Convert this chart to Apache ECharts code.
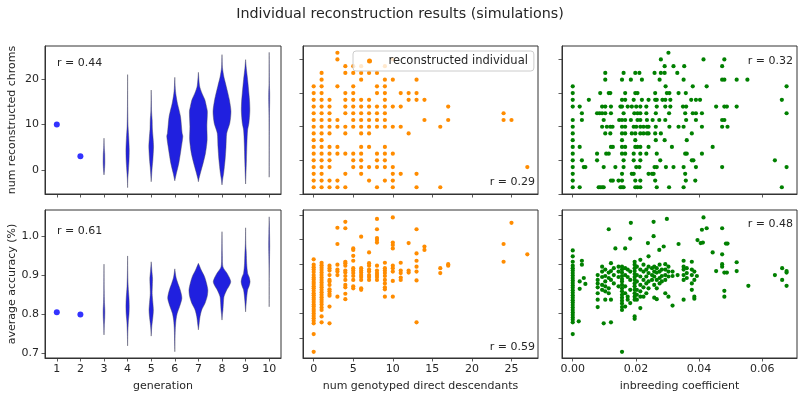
<!DOCTYPE html>
<html>
<head>
<meta charset="utf-8">
<title>Individual reconstruction results (simulations)</title>
<script src="https://cdn.jsdelivr.net/npm/echarts@6.0.0/dist/echarts.min.js"></script>
<style>
  html, body { margin: 0; padding: 0; background: #fff; }
  #main { width: 800px; height: 397px; }
</style>
</head>
<body>
<div id="main"></div>
<script>
// ---- data ----
var generations = [1, 2, 3, 4, 5, 6, 7, 8, 9, 10];
var singleGens = [1, 2];
var singleChroms = [10, 3];
var singleAccuracy = [0.805, 0.799];

// violin outlines: [value, half width in generation units]
var violinGens = [3, 4, 5, 6, 7, 8, 9, 10];
var violinChroms = [
  [[-1.1,0],[0,0.02],[1.5,0.035],[3.5,0.03],[5,0.012],[7,0]],
  [[-3.9,0],[-2,0.01],[0,0.035],[2,0.06],[4.4,0.07],[7,0.05],[9.6,0.02],[14,0.006],[21,0]],
  [[-2.6,0],[-1,0.02],[0.5,0.04],[2.2,0.07],[5.1,0.1],[7,0.08],[9,0.05],[11,0.04],[13,0.015],[17.6,0]],
  [[-2.4,0],[-0.7,0.07],[1.5,0.17],[4.4,0.26],[7.4,0.34],[8.1,0.31],[11.8,0.24],[14.7,0.11],[16.5,0.05],[18,0.02],[20.4,0]],
  [[-2.6,0],[-1.8,0.03],[-0.4,0.1],[1.5,0.2],[3.7,0.3],[6.6,0.37],[9.6,0.36],[12.9,0.38],[14,0.34],[15.5,0.27],[16.9,0.15],[18.5,0.05],[21.5,0]],
  [[-3.3,0],[-2,0.03],[-0.7,0.07],[2.2,0.13],[5.1,0.17],[8.1,0.2],[10.3,0.33],[12.9,0.38],[15.5,0.31],[18.4,0.18],[20.5,0.08],[22.5,0.02],[25.4,0]],
  [[-3.1,0],[-1,0.015],[2.2,0.035],[5.9,0.056],[8.8,0.085],[10.3,0.14],[12.9,0.18],[15,0.17],[16.9,0.14],[19.9,0.085],[22.4,0.03],[24.3,0]],
  [[-1.6,0],[5,0.004],[12,0.01],[15,0.02],[17,0.02],[19,0.008],[25.9,0]]
];
var violinAccuracy = [
  [[0.747,0],[0.77,0.012],[0.79,0.03],[0.81,0.035],[0.83,0.02],[0.86,0.008],[0.928,0]],
  [[0.719,0],[0.75,0.01],[0.78,0.03],[0.80,0.06],[0.82,0.07],[0.84,0.06],[0.87,0.025],[0.90,0.01],[0.949,0]],
  [[0.744,0],[0.765,0.02],[0.777,0.04],[0.795,0.075],[0.811,0.092],[0.83,0.07],[0.853,0.04],[0.875,0.05],[0.892,0.057],[0.91,0.03],[0.934,0]],
  [[0.704,0],[0.73,0.008],[0.76,0.02],[0.785,0.05],[0.802,0.1],[0.819,0.2],[0.841,0.3],[0.862,0.23],[0.879,0.13],[0.895,0.05],[0.916,0]],
  [[0.76,0],[0.775,0.03],[0.794,0.07],[0.811,0.14],[0.828,0.28],[0.845,0.37],[0.862,0.40],[0.88,0.34],[0.896,0.26],[0.913,0.12],[0.93,0]],
  [[0.785,0],[0.80,0.02],[0.811,0.04],[0.83,0.06],[0.845,0.085],[0.862,0.2],[0.872,0.3],[0.883,0.37],[0.895,0.3],[0.905,0.21],[0.921,0.04],[0.95,0.015],[1.011,0]],
  [[0.806,0],[0.82,0.015],[0.836,0.035],[0.862,0.085],[0.872,0.15],[0.883,0.19],[0.895,0.15],[0.905,0.085],[0.93,0.045],[0.956,0.03],[0.98,0.01],[1.021,0]],
  [[0.819,0],[0.9,0.004],[0.947,0.015],[0.975,0.022],[1.007,0.015],[1.049,0]]
];

// num reconstructed chroms vs descendants: [chroms, [descendants...]]
var descChromRows = [
  [21, [3]],
  [20, [3, 10]],
  [19, [4, 5, 6, 9]],
  [18, [1, 4, 5, 6, 7, 8]],
  [17, [1, 6, 9, 10, 13]],
  [16, [0, 1, 3, 5, 8, 9]],
  [15, [0, 1, 4, 5, 8, 9, 11, 12, 13]],
  [14, [0, 1, 2, 4, 5, 6, 7, 9, 12, 13, 14]],
  [13, [0, 1, 2, 4, 5, 6, 7, 8, 9, 10, 11, 17]],
  [12, [0, 1, 2, 4, 5, 6, 7, 8, 9, 24]],
  [11, [0, 1, 2, 3, 5, 6, 7, 8, 9, 14, 17, 24, 25]],
  [10, [0, 1, 2, 3, 4, 5, 6, 7, 8, 9, 10, 11, 16]],
  [9, [0, 1, 2, 4, 6, 7, 12]],
  [8, [0, 1]],
  [7, [0, 1, 2, 3, 6, 7, 9]],
  [6, [0, 1, 2, 3, 4, 5, 6, 8, 9, 10]],
  [5, [0, 1, 2, 5, 6, 8, 9]],
  [4, [0, 1, 2, 5, 6, 7, 8, 9, 10, 27]],
  [3, [0, 1, 4, 6, 10, 11, 13]],
  [2, [0, 1, 2, 3, 7, 9, 10]],
  [1, [0, 1, 2, 3, 4, 8, 10, 13, 16]]
];

// num reconstructed chroms vs inbreeding: [chroms, [coefficients...]]
var inbrChromRows = [
  [21, [0.0303]],
  [20, [0.0279, 0.0414, 0.0480]],
  [19, [0.0291, 0.0319, 0.0353, 0.0473]],
  [18, [0.0103, 0.0161, 0.0198, 0.0211, 0.0259, 0.0279, 0.0291, 0.0331]],
  [17, [0.0103, 0.0156, 0.0184, 0.0219, 0.0275, 0.0351, 0.0473, 0.0480, 0.0519, 0.0553]],
  [16, [0, 0.0294, 0.0380, 0.0424, 0.0677]],
  [15, [0, 0.0087, 0.0114, 0.0119, 0.0166, 0.0198, 0.0205, 0.0261, 0.0298, 0.0306, 0.0335, 0.0358]],
  [14, [0, 0.0051, 0.0156, 0.0166, 0.0193, 0.0219, 0.0240, 0.0261, 0.0266, 0.0284, 0.0293, 0.0309, 0.0375, 0.0390, 0.0403, 0.0662]],
  [13, [0, 0.0022, 0.0093, 0.0103, 0.0121, 0.0151, 0.0156, 0.0174, 0.0187, 0.0201, 0.0214, 0.0233, 0.0266, 0.0293, 0.0309, 0.0349, 0.0359, 0.0454, 0.0480, 0.0488, 0.0519]],
  [12, [0.0029, 0.0077, 0.0085, 0.0093, 0.0103, 0.0121, 0.0161, 0.0195, 0.0205, 0.0214, 0.0233, 0.0263, 0.0305, 0.0356, 0.0380, 0.0390, 0.0409, 0.0677]],
  [11, [0, 0.0029, 0.0098, 0.0147, 0.0156, 0.0166, 0.0184, 0.0205, 0.0214, 0.0235, 0.0253, 0.0274, 0.0293, 0.0359, 0.0390, 0.0473, 0.0480]],
  [10, [0, 0.0093, 0.0108, 0.0119, 0.0126, 0.0156, 0.0166, 0.0193, 0.0201, 0.0214, 0.0224, 0.0235, 0.0240, 0.0263, 0.0306, 0.0335, 0.0351, 0.0409, 0.0473, 0.0490]],
  [9, [0, 0.0103, 0.0119, 0.0156, 0.0166, 0.0187, 0.0198, 0.0214, 0.0224, 0.0235, 0.0240, 0.0261, 0.0279, 0.0377]],
  [8, [0, 0.0156, 0.0198, 0.0263, 0.0291, 0.0361]],
  [7, [0, 0.0022, 0.0121, 0.0127, 0.0156, 0.0166, 0.0198, 0.0205, 0.0214, 0.0240, 0.0314, 0.0443]],
  [6, [0, 0.0077, 0.0106, 0.0114, 0.0156, 0.0166, 0.0193, 0.0214, 0.0233, 0.0266, 0.0356, 0.0361, 0.0409]],
  [5, [0, 0.0029, 0.0077, 0.0161, 0.0193, 0.0214, 0.0277, 0.0377, 0.0382, 0.0640]],
  [4, [0, 0.0035, 0.0040, 0.0098, 0.0135, 0.0161, 0.0201, 0.0211, 0.0259, 0.0266, 0.0295, 0.0319, 0.0351, 0.0390, 0.0473, 0.0677]],
  [3, [0, 0.0156, 0.0187, 0.0193, 0.0240, 0.0251, 0.0256, 0.0356]],
  [2, [0, 0.0121, 0.0127, 0.0145, 0.0156, 0.0198, 0.0214, 0.0261, 0.0358, 0.0388]],
  [1, [0, 0.0022, 0.0082, 0.0087, 0.0093, 0.0098, 0.0151, 0.0156, 0.0161, 0.0198, 0.0205, 0.0214, 0.0266, 0.0305, 0.0351, 0.0662]]
];

// average accuracy vs descendants: [descendants, [accuracy...]]
var descAccCols = [
  [0, [0.910, 0.899, 0.894, 0.889, 0.884, 0.878, 0.873, 0.869, 0.864, 0.860, 0.855, 0.851, 0.846, 0.841, 0.837, 0.832, 0.828, 0.823, 0.818, 0.814, 0.809, 0.805, 0.800, 0.795, 0.790, 0.785, 0.780, 0.758, 0.722]],
  [1, [0.903, 0.898, 0.893, 0.888, 0.883, 0.878, 0.873, 0.868, 0.863, 0.858, 0.853, 0.848, 0.843, 0.838, 0.833, 0.828, 0.823, 0.818, 0.812, 0.807, 0.794, 0.782]],
  [2, [0.897, 0.892, 0.887, 0.878, 0.868, 0.865, 0.858, 0.849, 0.845, 0.840, 0.836, 0.814, 0.780]],
  [3, [0.974, 0.941, 0.899, 0.889, 0.885, 0.878, 0.834]],
  [4, [0.986, 0.973, 0.905, 0.902, 0.897, 0.887, 0.883, 0.876, 0.868, 0.858, 0.853, 0.840, 0.829]],
  [5, [0.932, 0.929, 0.917, 0.907, 0.892, 0.887, 0.882, 0.876, 0.868, 0.855, 0.851]],
  [6, [0.956, 0.892, 0.887, 0.883, 0.878, 0.874, 0.868, 0.851, 0.848]],
  [7, [0.924, 0.902, 0.897, 0.889, 0.885, 0.878, 0.874, 0.868]],
  [8, [0.992, 0.971, 0.953, 0.949, 0.944, 0.897, 0.887, 0.882, 0.878, 0.874, 0.868]],
  [9, [0.903, 0.892, 0.887, 0.882, 0.876, 0.868, 0.861, 0.853, 0.849, 0.834]],
  [10, [0.995, 0.944, 0.939, 0.932, 0.897, 0.892, 0.885, 0.866, 0.834]],
  [11, [0.903, 0.887, 0.882, 0.873, 0.868]],
  [12, [0.943, 0.887, 0.883]],
  [13, [0.971, 0.922, 0.907, 0.895, 0.885, 0.867, 0.782]],
  [14, [0.936, 0.929]],
  [16, [0.892, 0.882]],
  [17, [0.900, 0.897]],
  [24, [0.941, 0.905]],
  [25, [0.984]],
  [27, [0.920]]
];

// average accuracy vs inbreeding: [coefficient, [accuracy...]]
var inbrAccCols = [
  [0, [0.928, 0.916, 0.905, 0.897, 0.892, 0.887, 0.882, 0.877, 0.872, 0.867, 0.862, 0.857, 0.852, 0.847, 0.842, 0.837, 0.832, 0.827, 0.822, 0.817, 0.812, 0.807, 0.802, 0.797, 0.792, 0.787, 0.782, 0.758]],
  [0.0019, [0.784]],
  [0.0022, [0.865, 0.850]],
  [0.0029, [0.907, 0.899]],
  [0.0035, [0.872]],
  [0.0040, [0.860]],
  [0.0079, [0.878, 0.868, 0.861, 0.853, 0.841, 0.828, 0.813]],
  [0.0093, [0.895, 0.885, 0.874, 0.858, 0.848]],
  [0.0098, [0.780]],
  [0.0103, [0.889, 0.876, 0.865, 0.855, 0.845, 0.828]],
  [0.0114, [0.971, 0.883, 0.872, 0.851, 0.841]],
  [0.0121, [0.902, 0.886, 0.868, 0.828, 0.782]],
  [0.0130, [0.892, 0.878, 0.861]],
  [0.0135, [0.932]],
  [0.0145, [0.895, 0.885, 0.874, 0.855]],
  [0.0156, [0.895, 0.889, 0.883, 0.876, 0.870, 0.865, 0.858, 0.851, 0.845, 0.838, 0.832, 0.826, 0.820, 0.813, 0.807, 0.722]],
  [0.0166, [0.932, 0.892, 0.878, 0.855, 0.841, 0.814]],
  [0.0174, [0.889, 0.874, 0.834, 0.828]],
  [0.0182, [0.952, 0.885, 0.868, 0.848, 0.821]],
  [0.0184, [0.984]],
  [0.0196, [0.905, 0.899, 0.892, 0.886, 0.880, 0.874, 0.868, 0.861, 0.855, 0.848, 0.841, 0.834, 0.828, 0.794, 0.789]],
  [0.0203, [0.895, 0.878, 0.865, 0.848, 0.838, 0.828]],
  [0.0214, [0.909, 0.889, 0.875, 0.858, 0.845, 0.834, 0.811]],
  [0.0224, [0.899, 0.885, 0.868, 0.853, 0.834]],
  [0.0233, [0.889, 0.875, 0.861, 0.841]],
  [0.0238, [0.943]],
  [0.0240, [0.916, 0.895, 0.882, 0.865, 0.851]],
  [0.0251, [0.892, 0.878, 0.868]],
  [0.0256, [0.986, 0.957]],
  [0.0258, [0.895, 0.885, 0.875, 0.858, 0.832]],
  [0.0266, [0.892, 0.883, 0.868, 0.851, 0.829]],
  [0.0274, [0.929]],
  [0.0275, [0.899, 0.885, 0.872, 0.861]],
  [0.0282, [0.889, 0.876, 0.865]],
  [0.0288, [0.936]],
  [0.0293, [0.900, 0.889, 0.878, 0.868, 0.841]],
  [0.0298, [0.992]],
  [0.0303, [0.895, 0.885, 0.875, 0.834]],
  [0.0316, [0.885, 0.876, 0.816]],
  [0.0332, [0.878]],
  [0.0335, [0.941]],
  [0.0351, [0.907, 0.895, 0.889, 0.878, 0.868, 0.828]],
  [0.0361, [0.892, 0.882, 0.872]],
  [0.0377, [0.905, 0.889, 0.878, 0.861, 0.848]],
  [0.0385, [0.885, 0.868, 0.834, 0.830]],
  [0.0393, [0.876]],
  [0.0395, [0.949]],
  [0.0405, [0.943]],
  [0.0409, [0.970]],
  [0.0412, [0.944]],
  [0.0414, [0.995]],
  [0.0424, [0.973]],
  [0.0443, [0.924]],
  [0.0454, [0.886]],
  [0.0473, [0.973, 0.920, 0.900, 0.895]],
  [0.0480, [0.883, 0.846, 0.834]],
  [0.0485, [0.942]],
  [0.0488, [0.883]],
  [0.0490, [0.942]],
  [0.0519, [0.904, 0.886]],
  [0.0556, [0.856]],
  [0.0640, [0.878]],
  [0.0663, [0.892, 0.868]],
  [0.0677, [0.886, 0.883, 0.856]]
];

var chromTicks = [0, 10, 20];
var accTicks = [0.7, 0.8, 0.9, 1.0];
var chromTicks2 = [0, 5, 10, 15, 20];
var accTicks2 = [0.75, 0.80, 0.85, 0.90, 0.95, 1.0];
var descTicks = [0, 5, 10, 15, 20, 25];
var inbrTicks = [0, 0.02, 0.04, 0.06];
var rValues = ['0.44', '0.29', '0.32', '0.61', '0.59', '0.48'];

// ---- helpers ----
function fromRows(rows) {
  var out = [];
  rows.forEach(function (r) { r[1].forEach(function (x) { out.push([x, r[0]]); }); });
  return out;
}
function fromCols(cols) {
  var out = [];
  cols.forEach(function (c) { c[1].forEach(function (y) { out.push([c[0], y]); }); });
  return out;
}
function zip(a, b) { return a.map(function (v, i) { return [v, b[i]]; }); }

var FONT = 'DejaVu Sans';
var INK = '#262626';
var SPINE = '#333333';

function axis(gridIndex, min, max, ticks, showLabels, fmt, name, isY) {
  var a = {
    type: 'value', gridIndex: gridIndex, min: min, max: max,
    axisLine: { show: true, onZero: false, lineStyle: { color: SPINE, width: 1 } },
    axisTick: { show: true, length: 3.5, customValues: ticks, lineStyle: { color: SPINE, width: 0.8 } },
    axisLabel: { show: showLabels, customValues: ticks, color: INK, fontSize: 11, fontFamily: FONT, margin: 6,
      formatter: fmt || function (v) { return String(v); } },
    splitLine: { show: false }
  };
  if (name) {
    a.name = name;
    a.nameLocation = 'middle';
    a.nameGap = isY ? 27 : 23;
    a.nameTextStyle = { color: INK, fontSize: 11, fontFamily: FONT };
  }
  return a;
}

function violinRender(profiles) {
  return function (params, api) {
    var g = api.value(0);
    var prof = profiles[params.dataIndex];
    var right = prof.map(function (p) { return api.coord([g + p[1], p[0]]); });
    var left = prof.slice().reverse().map(function (p) { return api.coord([g - p[1], p[0]]); });
    return {
      type: 'polygon',
      shape: { points: right.concat(left), smooth: 0.25 },
      style: { fill: '#2020df', stroke: 'rgba(70,70,90,0.75)', lineWidth: 0.6 }
    };
  };
}

var chart = echarts.init(document.getElementById('main'), null, { renderer: 'canvas' });

var gridBox = { show: true, borderColor: SPINE, borderWidth: 1, backgroundColor: 'transparent' };
var grids = [
  Object.assign({ left: 45, top: 46, width: 236, height: 148 }, gridBox),
  Object.assign({ left: 303, top: 46, width: 235, height: 148 }, gridBox),
  Object.assign({ left: 562, top: 46, width: 235, height: 148 }, gridBox),
  Object.assign({ left: 45, top: 210, width: 236, height: 148 }, gridBox),
  Object.assign({ left: 303, top: 210, width: 235, height: 148 }, gridBox),
  Object.assign({ left: 562, top: 210, width: 235, height: 148 }, gridBox)
];

var fmt2 = function (v) { return v.toFixed(2); };
var fmt1 = function (v) { return v.toFixed(1); };

var option = {
  animation: false,
  textStyle: { fontFamily: FONT },
  title: {
    text: 'Individual reconstruction results (simulations)',
    left: 'center', top: 2,
    textStyle: { fontSize: 14.3, fontWeight: 'normal', color: INK, fontFamily: FONT }
  },
  legend: {
    data: ['reconstructed individual'],
    left: 353, top: 51,
    icon: 'circle', itemWidth: 28, itemHeight: 5, itemGap: 0,
    padding: [4, 6, 4, 14],
    backgroundColor: 'rgba(255,255,255,0.8)',
    borderColor: '#cccccc', borderWidth: 1, borderRadius: 3,
    textStyle: { color: INK, fontSize: 11.5, fontFamily: FONT },
    selectedMode: false
  },
  grid: grids,
  xAxis: [
    axis(0, 0.5, 10.5, generations, false),
    axis(1, -1.35, 28.35, descTicks, false),
    axis(2, -0.0034, 0.071, inbrTicks, false),
    axis(3, 0.5, 10.5, generations, true, null, 'generation'),
    axis(4, -1.35, 28.35, descTicks, true, null, 'num genotyped direct descendants'),
    axis(5, -0.0034, 0.071, inbrTicks, true, fmt2, 'inbreeding coefficient')
  ],
  yAxis: [
    axis(0, -5.3, 27.3, chromTicks, true, null, 'num reconstructed chroms', true),
    axis(1, 0, 22, chromTicks2, false),
    axis(2, 0, 22, chromTicks2, false),
    axis(3, 0.688, 1.0665, accTicks, true, fmt1, 'average accuracy (%)', true),
    axis(4, 0.7095, 1.0101, accTicks2, false),
    axis(5, 0.7095, 1.0101, accTicks2, false)
  ],
  graphic: [
    { type: 'text', left: 57, top: 58, style: { text: 'r = ' + rValues[0], font: '11px "DejaVu Sans"', fill: INK } },
    { type: 'text', right: 265, top: 177, style: { text: 'r = ' + rValues[1], font: '11px "DejaVu Sans"', fill: INK } },
    { type: 'text', right: 7, top: 56, style: { text: 'r = ' + rValues[2], font: '11px "DejaVu Sans"', fill: INK } },
    { type: 'text', left: 57, top: 226, style: { text: 'r = ' + rValues[3], font: '11px "DejaVu Sans"', fill: INK } },
    { type: 'text', right: 265, top: 342, style: { text: 'r = ' + rValues[4], font: '11px "DejaVu Sans"', fill: INK } },
    { type: 'text', right: 7, top: 219, style: { text: 'r = ' + rValues[5], font: '11px "DejaVu Sans"', fill: INK } }
  ],
  series: [
    {
      type: 'custom', name: 'violin chroms', xAxisIndex: 0, yAxisIndex: 0,
      data: violinGens.map(function (g) { return [g]; }),
      renderItem: violinRender(violinChroms), silent: true
    },
    {
      type: 'custom', name: 'violin accuracy', xAxisIndex: 3, yAxisIndex: 3,
      data: violinGens.map(function (g) { return [g]; }),
      renderItem: violinRender(violinAccuracy), silent: true
    },
    {
      type: 'scatter', name: 'single chroms', xAxisIndex: 0, yAxisIndex: 0,
      data: zip(singleGens, singleChroms), symbolSize: 6, itemStyle: { color: '#0000ff' }
    },
    {
      type: 'scatter', name: 'single accuracy', xAxisIndex: 3, yAxisIndex: 3,
      data: zip(singleGens, singleAccuracy), symbolSize: 6, itemStyle: { color: '#0000ff' }
    },
    {
      type: 'scatter', name: 'reconstructed individual', xAxisIndex: 1, yAxisIndex: 1,
      data: fromRows(descChromRows), symbolSize: 4.2, itemStyle: { color: '#ff8c00', opacity: 1 }
    },
    {
      type: 'scatter', name: 'desc accuracy', xAxisIndex: 4, yAxisIndex: 4,
      data: fromCols(descAccCols), symbolSize: 4.2, itemStyle: { color: '#ff8c00', opacity: 1 }
    },
    {
      type: 'scatter', name: 'inbr chroms', xAxisIndex: 2, yAxisIndex: 2,
      data: fromRows(inbrChromRows), symbolSize: 4.2, itemStyle: { color: '#008000', opacity: 1 }
    },
    {
      type: 'scatter', name: 'inbr accuracy', xAxisIndex: 5, yAxisIndex: 5,
      data: fromCols(inbrAccCols), symbolSize: 4.2, itemStyle: { color: '#008000', opacity: 1 }
    }
  ]
};

chart.setOption(option);
window.addEventListener('resize', function () { chart.resize(); });
</script>
</body>
</html>
